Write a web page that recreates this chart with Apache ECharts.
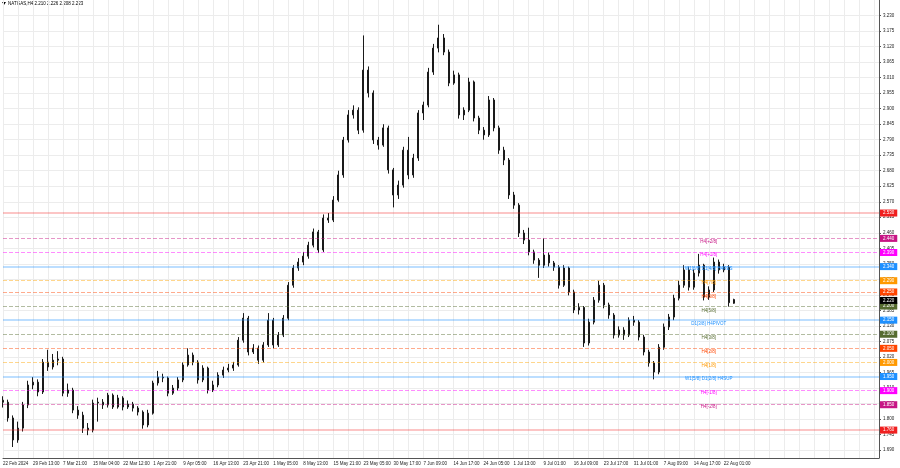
<!DOCTYPE html>
<html>
<head>
<meta charset="utf-8">
<script src="https://cdn.jsdelivr.net/npm/echarts@6/dist/echarts.min.js"></script>
<style>
html,body{margin:0;padding:0;background:#fff;}
#c{width:900px;height:468px;}
</style>
</head>
<body>
<div id="c"></div>
<script>
// ---- data ----
const title = 'NATGAS,H4 2.210 2.226 2.208 2.223';
const tickLabels = ['22 Feb 2024','29 Feb 13:00','7 Mar 21:00','15 Mar 04:00','22 Mar 12:00','1 Apr 21:00','9 Apr 05:00','16 Apr 13:00','23 Apr 21:00','1 May 05:00','8 May 13:00','15 May 21:00','23 May 05:00','30 May 17:00','7 Jun 09:00','14 Jun 17:00','24 Jun 05:00','1 Jul 13:00','9 Jul 01:00','16 Jul 09:00','23 Jul 17:00','31 Jul 01:00','7 Aug 09:00','14 Aug 17:00','22 Aug 01:00'];
const priceTicks = [1.690,1.745,1.800,1.855,1.910,1.965,2.020,2.075,2.130,2.185,2.240,2.295,2.350,2.405,2.460,2.515,2.570,2.625,2.680,2.735,2.790,2.845,2.900,2.955,3.010,3.065,3.120,3.175,3.230];
// [open, close, low, high]
const ohlc = [
[1.866,1.859,1.840,1.880],[1.859,1.803,1.790,1.868],[1.803,1.725,1.700,1.812],[1.725,1.767,1.715,1.790],
[1.767,1.849,1.755,1.860],[1.849,1.920,1.838,1.935],[1.920,1.930,1.905,1.948],[1.930,1.895,1.880,1.940],
[1.895,2.001,1.888,2.012],[2.001,1.984,1.970,2.045],[1.984,2.008,1.975,2.030],[2.008,2.012,1.990,2.040],
[2.012,1.891,1.880,2.020],[1.891,1.902,1.878,1.925],[1.902,1.831,1.820,1.910],[1.831,1.813,1.800,1.845],
[1.813,1.767,1.750,1.825],[1.767,1.760,1.742,1.785],[1.760,1.856,1.752,1.868],[1.856,1.859,1.790,1.875],
[1.859,1.849,1.835,1.870],[1.849,1.884,1.840,1.892],[1.884,1.842,1.835,1.890],[1.842,1.874,1.836,1.885],
[1.874,1.842,1.830,1.880],[1.842,1.852,1.835,1.865],[1.852,1.838,1.826,1.860],[1.838,1.824,1.812,1.845],
[1.824,1.778,1.765,1.830],[1.778,1.820,1.770,1.832],[1.820,1.927,1.815,1.935],[1.927,1.948,1.918,1.970],
[1.948,1.945,1.930,1.960],[1.945,1.891,1.880,1.950],[1.891,1.909,1.885,1.920],[1.909,1.938,1.900,1.948],
[1.938,1.991,1.930,2.000],[1.991,2.026,1.985,2.050],[2.026,2.001,1.990,2.035],[2.001,1.938,1.925,2.008],
[1.938,1.980,1.930,1.990],[1.980,1.902,1.890,1.985],[1.902,1.920,1.895,1.935],[1.920,1.955,1.912,1.965],
[1.955,1.973,1.945,1.985],[1.973,1.980,1.965,1.995],[1.980,1.991,1.970,2.002],[1.991,2.079,1.985,2.090],
[2.079,2.157,2.070,2.175],[2.157,2.037,2.025,2.165],[2.037,2.051,2.030,2.065],[2.051,2.008,1.995,2.060],
[2.008,2.062,2.000,2.072],[2.062,2.150,2.055,2.175],[2.150,2.062,2.050,2.158],[2.062,2.097,2.055,2.108],
[2.097,2.157,2.090,2.168],[2.157,2.274,2.150,2.285],[2.274,2.335,2.265,2.345],[2.335,2.356,2.325,2.370],
[2.356,2.377,2.345,2.392],[2.377,2.416,2.368,2.428],[2.416,2.463,2.408,2.475],[2.463,2.399,2.388,2.470],
[2.399,2.512,2.392,2.525],[2.512,2.505,2.495,2.530],[2.505,2.576,2.498,2.590],[2.576,2.665,2.570,2.680],
[2.665,2.789,2.655,2.800],[2.789,2.878,2.780,2.895],[2.878,2.895,2.865,2.912],[2.895,2.824,2.810,2.905],
[2.824,3.037,2.815,3.160],[3.037,2.956,2.940,3.050],[2.956,2.789,2.775,2.965],[2.789,2.771,2.755,2.800],
[2.771,2.832,2.765,2.845],[2.832,2.683,2.670,2.840],[2.683,2.594,2.550,2.690],[2.594,2.629,2.580,2.645],
[2.629,2.753,2.620,2.765],[2.753,2.665,2.650,2.800],[2.665,2.725,2.655,2.740],[2.725,2.885,2.715,2.895],
[2.885,2.913,2.860,2.925],[2.913,3.030,2.905,3.045],[3.030,3.115,3.020,3.130],[3.115,3.151,3.100,3.198],
[3.151,3.101,3.090,3.165],[3.101,2.991,2.980,3.110],[2.991,3.020,2.985,3.035],[3.020,2.878,2.865,3.028],
[2.878,2.895,2.860,2.905],[2.895,2.995,2.888,3.010],[2.995,2.867,2.855,3.000],[2.867,2.824,2.810,2.875],
[2.824,2.807,2.790,2.835],[2.807,2.931,2.800,2.945],[2.931,2.832,2.820,2.938],[2.832,2.753,2.740,2.840],
[2.753,2.718,2.700,2.765],[2.718,2.594,2.580,2.725],[2.594,2.558,2.545,2.605],[2.558,2.459,2.445,2.565],
[2.459,2.434,2.420,2.470],[2.434,2.392,2.380,2.478],[2.392,2.363,2.350,2.400],[2.363,2.345,2.300,2.370],
[2.345,2.381,2.335,2.440],[2.381,2.353,2.340,2.390],[2.353,2.338,2.325,2.360],[2.338,2.274,2.262,2.345],
[2.274,2.335,2.268,2.345],[2.335,2.250,2.238,2.340],[2.250,2.186,2.175,2.258],[2.186,2.195,2.170,2.210],
[2.195,2.069,2.055,2.200],[2.069,2.143,2.060,2.155],[2.143,2.221,2.135,2.232],[2.221,2.274,2.212,2.290],
[2.274,2.204,2.192,2.282],[2.204,2.168,2.155,2.212],[2.168,2.097,2.085,2.175],[2.097,2.115,2.088,2.128],
[2.115,2.097,2.080,2.125],[2.097,2.150,2.090,2.160],[2.150,2.143,2.130,2.165],[2.143,2.090,2.078,2.150],
[2.090,2.037,2.025,2.098],[2.037,1.998,1.985,2.045],[1.998,1.966,1.940,2.005],[1.966,2.054,1.958,2.065],
[2.054,2.126,2.045,2.138],[2.126,2.161,2.115,2.172],[2.161,2.228,2.150,2.240],[2.228,2.274,2.220,2.290],
[2.274,2.328,2.265,2.345],[2.328,2.267,2.255,2.340],[2.267,2.317,2.258,2.330],[2.317,2.345,2.305,2.385],
[2.345,2.232,2.220,2.350],[2.232,2.257,2.222,2.270],[2.257,2.356,2.250,2.372],[2.356,2.328,2.315,2.365],
[2.328,2.338,2.320,2.350],[2.338,2.212,2.198,2.345],[2.210,2.223,2.208,2.226]
];
const levelValues = [2.529, 2.441, 2.393, 2.344, 2.295, 2.246, 2.197, 2.148, 2.100, 2.051, 2.002, 1.953, 1.904, 1.855, 1.758];
const levelNames = ['', 'H4[+2/8]', 'H4[+1/8]', 'W1[6/8] D1[4/8] H4RES', 'H4[7/8]', 'H4[6/8]', 'H4[5/8]', 'D1[3/8] H4PIVOT', 'H4[3/8]', 'H4[2/8]', 'H4[1/8]', 'W1[5/8] D1[2/8] H4SUP', 'H4[-1/8]', 'H4[-2/8]', ''];
const currentPrice = 2.223;

// ---- styles ----
const levelColors = ['#f02020','#c71585','#ff00ff','#1e90ff','#ff9900','#ff4500','#556b2f','#1e90ff','#556b2f','#ff4500','#ff9900','#1e90ff','#ff00ff','#c71585','#f02020'];
const levelLineColors = ['rgba(240,32,32,0.35)','rgba(199,21,133,0.45)','rgba(255,0,255,0.45)','rgba(30,144,255,0.4)','rgba(255,165,0,0.45)','rgba(255,69,0,0.45)','rgba(85,107,47,0.45)','rgba(30,144,255,0.4)','rgba(85,107,47,0.45)','rgba(255,69,0,0.45)','rgba(255,165,0,0.45)','rgba(30,144,255,0.4)','rgba(255,0,255,0.45)','rgba(199,21,133,0.45)','rgba(240,32,32,0.35)'];
const levelLineTypes = ['solid','dashed','dashed','solid','dashed','dashed','dashed','solid','dashed','dashed','dashed','solid','dashed','dashed','solid'];
const FONT = 'Liberation Sans';
const FS = 4.5;
const N_CATS = 176;
const LABEL_STEP = 6;

const categories = [];
for (let i = 0; i < N_CATS; i++) categories.push('c' + i);

const markLineData = levelValues.map((v, k) => ({
  yAxis: v,
  lineStyle: {color: levelLineColors[k], type: levelLineTypes[k], width: levelLineTypes[k] === 'solid' ? 1.5 : 1, opacity: 1},
  label: {backgroundColor: levelColors[k], opacity: 1}
}));
markLineData.push({yAxis: currentPrice, lineStyle: {color: 'rgba(0,0,0,0)'}, label: {backgroundColor: '#000000', opacity: 1}});

const markPointData = [];
levelValues.forEach((v, k) => {
  if (levelNames[k]) {
    markPointData.push({coord: [141, v], name: levelNames[k], label: {color: levelColors[k]}});
  }
});

const chart = echarts.init(document.getElementById('c'), null, {renderer: 'canvas'});
chart.setOption({
  animation: false,
  backgroundColor: '#ffffff',
  grid: {left: 0, right: 21, top: 0, bottom: 10},
  graphic: [
    {type: 'polygon', shape: {points: [[2,2],[6,2],[4,5]]}, style: {fill: '#000'}},
    {type: 'text', left: 8, top: 1, style: {text: title, fontSize: FS, fontFamily: FONT, fill: '#000'}}
  ],
  xAxis: {
    type: 'category',
    data: categories,
    boundaryGap: false,
    axisLine: {show: true, lineStyle: {color: '#555', width: 1}},
    axisTick: {show: false},
    axisLabel: {
      interval: LABEL_STEP - 1,
      align: 'left',
      margin: 3,
      fontSize: FS,
      fontFamily: FONT,
      color: '#222',
      formatter: (v, idx) => tickLabels[idx / LABEL_STEP] || ''
    },
    splitLine: {show: true, interval: LABEL_STEP / 2 - 1, lineStyle: {color: '#ececec', width: 1}}
  },
  yAxis: {
    type: 'value',
    position: 'right',
    min: 1.661,
    max: 3.2857,
    scale: true,
    axisLine: {show: true, lineStyle: {color: '#555', width: 1}},
    axisTick: {show: true, length: 2, customValues: priceTicks, lineStyle: {color: '#555'}},
    axisLabel: {customValues: priceTicks, margin: 4, fontSize: FS, fontFamily: FONT, color: '#222', formatter: v => v.toFixed(3)},
    splitLine: {show: true, lineStyle: {color: '#ececec', width: 1}}
  },
  series: [{
    type: 'candlestick',
    data: ohlc.map(r => [r[0], r[1], r[2], r[3]]),
    barWidth: 1.5,
    itemStyle: {color: '#1a1a1a', borderColor: '#1a1a1a', color0: '#1a1a1a', borderColor0: '#1a1a1a', borderWidth: 1},
    markLine: {
      silent: true,
      symbol: ['none', 'none'],
      label: {show: true, position: 'end', distance: 1, color: '#ffffff', fontSize: FS, fontFamily: FONT, padding: [1, 3, 1, 3], opacity: 1, formatter: p => p.value.toFixed(3)},
      data: markLineData
    },
    markPoint: {
      silent: true,
      symbol: 'circle',
      symbolSize: 0,
      label: {show: true, position: 'bottom', distance: 1, fontSize: FS, fontFamily: FONT, formatter: p => p.name},
      data: markPointData
    }
  }]
});
</script>
</body>
</html>
